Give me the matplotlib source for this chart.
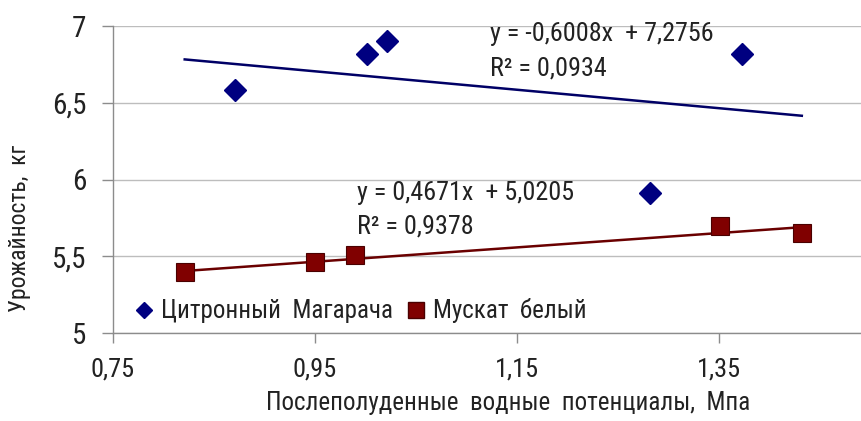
import matplotlib.pyplot as plt
import matplotlib.lines as mlines

plt.rcParams['font.family'] = ['Roboto Condensed', 'Liberation Sans', 'DejaVu Sans']

# Цитронный Магарача
x_citron = [0.871, 1.001, 1.021, 1.282, 1.373]
y_citron = [6.58, 6.82, 6.90, 5.91, 6.82]
# Мускат белый
x_muskat = [0.821, 0.950, 0.990, 1.351, 1.432]
y_muskat = [5.40, 5.46, 5.51, 5.70, 5.65]

# линии тренда (из подписей на графике)
k_citron, b_citron, r2_citron = -0.6008, 7.2756, 0.0934
k_muskat, b_muskat, r2_muskat = 0.4671, 5.0205, 0.9378

xticks = [0.75, 0.95, 1.15, 1.35, 1.55]
xtick_labels = ['0,75', '0,95', '1,15', '1,35', '']
yticks = [5, 5.5, 6, 6.5, 7]
ytick_labels = ['5', '5,5', '6', '6,5', '7']

navy = '#000080'
maroon = '#800000'
grid_c = '#bdbdbd'
axis_c = '#8c8c8c'
txt_c = '#222222'

fig = plt.figure(figsize=(8.61, 4.21), dpi=100)
ax = fig.add_axes([113/861, 1-333/421, 808/861, 307/421])

ax.set_xlim(0.75, 1.55)
ax.set_ylim(5, 7)

# тренды по всему диапазону x
xmin = min(x_citron + x_muskat)
xmax = max(x_citron + x_muskat)
ax.plot([xmin, xmax], [k_citron*xmin + b_citron, k_citron*xmax + b_citron],
        color='#000066', lw=1.8, zorder=2)
ax.plot([xmin, xmax], [k_muskat*xmin + b_muskat, k_muskat*xmax + b_muskat],
        color='#6a0000', lw=1.8, zorder=2)

ax.plot(x_citron, y_citron, 'D', color=navy, ms=11.5, mec=navy, zorder=3)
ax.plot(x_muskat, y_muskat, 's', color=maroon, ms=13, mec='#4a0000', mew=0.8, zorder=3)

def fmt(v):
    return '{:.4f}'.format(v).replace('.', ',')

eq_size = 18.8
ax.text(1.123, 6.948, 'y = {}x  + {}'.format(fmt(k_citron), fmt(b_citron)),
        fontsize=eq_size, va='center', ha='left', color=txt_c)
ax.text(1.123, 6.726, 'R² = {}'.format(fmt(r2_citron)),
        fontsize=eq_size, va='center', ha='left', color=txt_c)
ax.text(0.9916, 5.912, 'y = {}x  + {}'.format(fmt(k_muskat), fmt(b_muskat)),
        fontsize=eq_size, va='center', ha='left', color=txt_c)
ax.text(0.9916, 5.691, 'R² = {}'.format(fmt(r2_muskat)),
        fontsize=eq_size, va='center', ha='left', color=txt_c)

ax.set_xticks(xticks)
ax.set_xticklabels(xtick_labels, fontsize=19, color=txt_c)
ax.set_yticks(yticks)
ax.set_yticklabels(ytick_labels, fontsize=21, color=txt_c)
ax.tick_params(axis='x', length=7, width=1, color=axis_c, pad=11)
ax.tick_params(axis='y', length=8, width=1, color=axis_c, pad=11)

for s in ['top', 'right']:
    ax.spines[s].set_visible(False)
for s in ['left', 'bottom']:
    ax.spines[s].set_color(axis_c)
    ax.spines[s].set_linewidth(1)

ax.yaxis.grid(True, color=grid_c, lw=1)
ax.set_axisbelow(True)

ax.set_xlabel('Послеполуденные  водные  потенциалы,  Мпа', fontsize=18, color=txt_c)
ax.xaxis.set_label_coords(0.489, -0.19)
ax.set_ylabel('Урожайность,  кг', fontsize=17, color=txt_c)
ax.yaxis.set_label_coords(-0.1015, 0.342)

h1 = mlines.Line2D([], [], ls='none', marker='D', color=navy, ms=8)
h2 = mlines.Line2D([], [], ls='none', marker='s', color=maroon, mec='#4a0000', ms=11)
ax.legend([h1, h2], ['Цитронный  Магарача', 'Мускат  белый'], loc='center left',
          bbox_to_anchor=(0.028, 0.072), ncol=2, frameon=False, fontsize=18,
          handlelength=0.7, handletextpad=0.3, columnspacing=0.6,
          borderaxespad=0, borderpad=0, labelcolor=txt_c)

fig.savefig('out.png', dpi=100, facecolor='white')
